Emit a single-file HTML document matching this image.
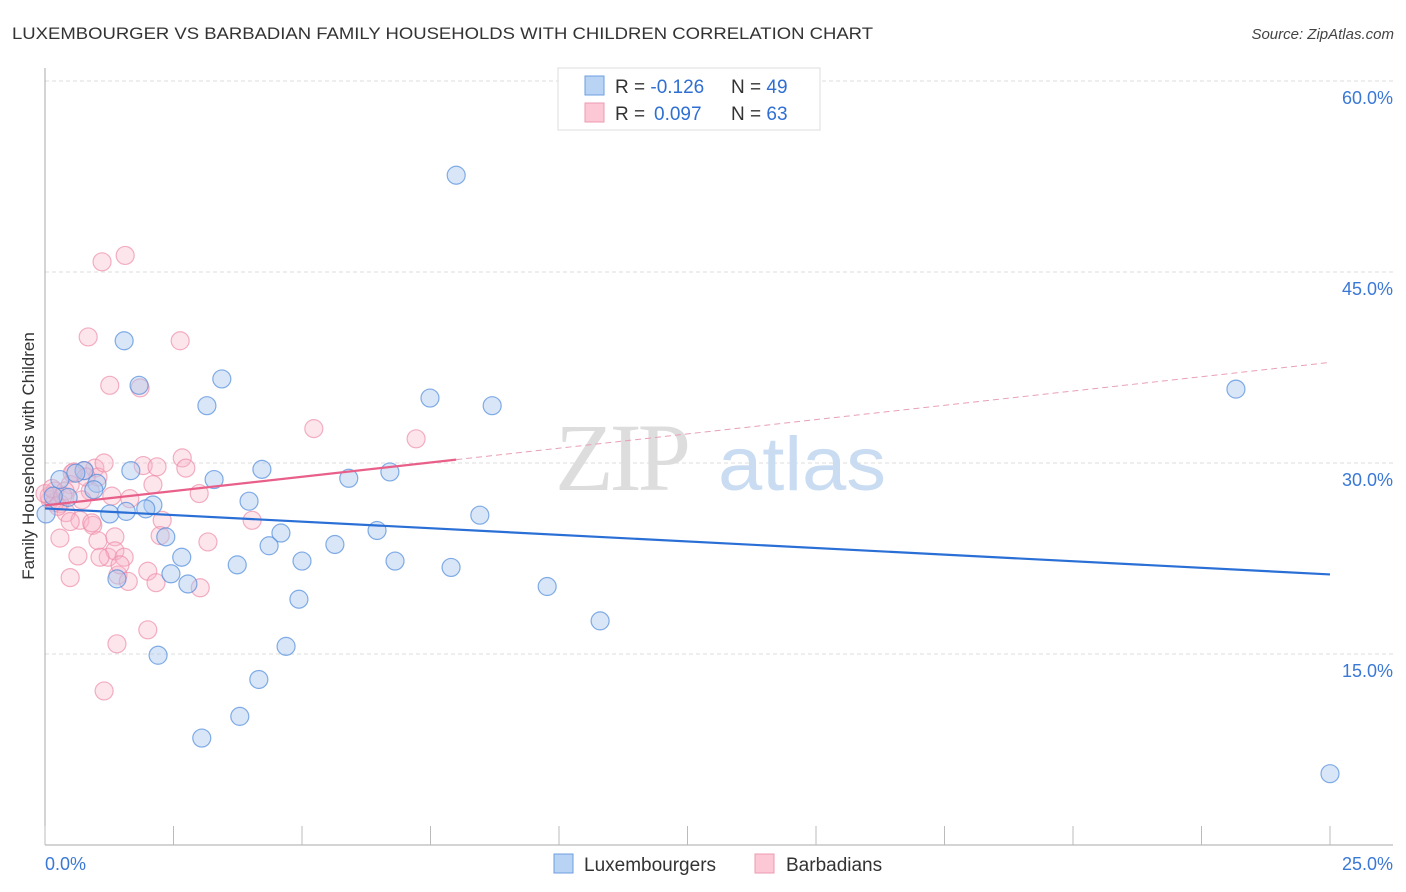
<!DOCTYPE html>
<html><head><meta charset="utf-8"><style>
body{margin:0;background:#fff;font-family:"Liberation Sans",sans-serif}
svg{display:block}
</style></head><body>
<svg id="chart" width="1406" height="892" xmlns="http://www.w3.org/2000/svg" font-family="Liberation Sans, sans-serif">
<text x="12" y="39" font-size="17" fill="#333" textLength="861" lengthAdjust="spacingAndGlyphs">LUXEMBOURGER VS BARBADIAN FAMILY HOUSEHOLDS WITH CHILDREN CORRELATION CHART</text>
<text x="1394" y="39" font-size="15" font-style="italic" fill="#444" text-anchor="end">Source: ZipAtlas.com</text>
<g id="grid"></g>
<g id="axes"></g>
<text x="555" y="490" font-size="96" font-family="Liberation Serif, serif" fill="#ddd" letter-spacing="-4">ZIP</text>
<text x="718" y="490" font-size="76" fill="#c9dcf2" textLength="168" lengthAdjust="spacingAndGlyphs">atlas</text>
<g id="pts"></g>
<g id="lines"></g>
<text transform="translate(34,456) rotate(-90)" font-size="17" fill="#333" text-anchor="middle">Family Households with Children</text>
<g>
<rect x="558" y="68" width="262" height="62" fill="#fff" stroke="#ddd"/>
<rect x="585" y="76" width="19" height="19" fill="#b9d3f5" stroke="#6d9fe0"/>
<rect x="585" y="103" width="19" height="19" fill="#fcc8d6" stroke="#ee9ab2"/>
<text x="615" y="93" font-size="19" fill="#333">R = <tspan fill="#2f6fd3">-0.126</tspan><tspan x="731">N = </tspan><tspan fill="#2f6fd3">49</tspan></text>
<text x="615" y="120" font-size="19" fill="#333">R = <tspan x="654" fill="#2f6fd3">0.097</tspan><tspan x="731">N = </tspan><tspan fill="#2f6fd3">63</tspan></text>
</g>
<g>
<rect x="554" y="854" width="19" height="19" fill="#b9d3f5" stroke="#6d9fe0"/>
<text x="584" y="871" font-size="19" fill="#333">Luxembourgers</text>
<rect x="755" y="854" width="19" height="19" fill="#fcc8d6" stroke="#ee9ab2"/>
<text x="786" y="871" font-size="19" fill="#333">Barbadians</text>
</g>
</svg>
<script>
const yTicks=[15,30,45,60];
const yTickLabels=["15.0%","30.0%","45.0%","60.0%"];
const xTickCount=[0,2.5,5,7.5,10,12.5,15,17.5,20,22.5,25];
const luxX=[8.0,1.54,1.83,3.44,3.15,7.49,8.70,23.17,4.22,3.29,1.67,5.91,6.71,3.97,2.10,1.96,1.26,1.58,8.46,2.35,4.59,6.46,4.36,5.64,2.66,3.74,5.00,6.81,7.90,2.45,2.78,1.40,9.77,4.94,10.80,2.20,4.69,4.16,3.79,3.05,25.0,0.29,0.45,1.01,0.76,0.16,0.02,0.60,0.95];
const luxY=[52.6,39.6,36.1,36.6,34.5,35.1,34.5,35.8,29.5,28.7,29.4,28.8,29.3,27.0,26.7,26.4,26.0,26.2,25.9,24.2,24.5,24.7,23.5,23.6,22.6,22.0,22.3,22.3,21.8,21.3,20.5,20.9,20.3,19.3,17.6,14.9,15.6,13.0,10.1,8.4,5.6,28.7,27.3,28.4,29.4,27.4,26.0,29.2,27.9];
const barX=[1.56,1.11,0.84,2.63,1.26,1.85,5.23,7.22,2.67,1.91,2.18,2.74,0.97,0.76,0.56,1.03,0.49,1.30,1.65,2.10,3.00,0.88,0.19,0.10,0.29,0.41,0.68,2.28,4.03,0.93,0.49,2.24,0.29,1.03,3.17,1.36,0.64,1.23,1.36,1.54,0.49,1.42,1.62,2.00,2.16,3.02,2.00,1.40,1.15,0.08,0.19,0.0,0.14,0.25,0.39,0.53,0.80,1.15,0.91,1.46,0.35,0.72,1.07];
const barY=[46.3,45.8,39.9,39.6,36.1,35.9,32.7,31.9,30.4,29.8,29.7,29.6,29.6,29.4,29.3,28.9,28.3,27.4,27.2,28.3,27.6,27.8,27.8,27.1,26.8,26.1,25.5,25.5,25.5,25.1,25.4,24.3,24.1,23.9,23.8,24.2,22.7,22.6,23.1,22.6,21.0,21.2,20.7,21.5,20.6,20.2,16.9,15.8,12.1,27.4,26.9,27.6,28.0,26.6,27.8,29.2,28.9,30.0,25.3,22.0,27.4,27.1,22.6];
const luxTrend=[26.43,21.25];
const barTrend=[26.67,37.9];
const barSolidEnd=8.0;
const NS="http://www.w3.org/2000/svg";
const X0=45,X1=1330,Y0=845,PX=(X1-X0)/25,PY=(845-463)/30;
const sx=v=>X0+v*PX, sy=v=>Y0-v*PY;
function mk(tag,attrs,parent){const e=document.createElementNS(NS,tag);for(const k in attrs)e.setAttribute(k,attrs[k]);parent.appendChild(e);return e;}
const grid=document.getElementById('grid'),axes=document.getElementById('axes'),pts=document.getElementById('pts'),lines=document.getElementById('lines');
yTicks.forEach((t,i)=>{
  const l=mk('line',{x1:X0,x2:1393,y1:sy(t),y2:sy(t),stroke:'#ddd','stroke-dasharray':'4 3'},grid);
  
  
  const tx=mk('text',{x:1393,y:sy(t)+23,'font-size':18,fill:'#3a78d6','text-anchor':'end'},axes);
  tx.textContent=yTickLabels[i];
  
  
});
const ya=mk('line',{x1:X0,x2:X0,y1:68,y2:Y0,stroke:'#aaa'},axes);


const xa=mk('line',{x1:X0,x2:1393,y1:Y0,y2:Y0,stroke:'#aaa'},axes);


xTickCount.forEach(t=>{
  const l=mk('line',{x1:sx(t),x2:sx(t),y1:826,y2:Y0,stroke:'#bbb'},axes);
  
  
});
[["0.0%",X0,'start'],["25.0%",1393,'end']].forEach(([s,x,a])=>{
  const tx=mk('text',{x:x,y:870,'font-size':18,fill:'#3a78d6','text-anchor':a},axes);
  tx.textContent=s;
  
  
});
barX.forEach((v,i)=>{
  const c=mk('circle',{cx:sx(v),cy:sy(barY[i]),r:9,fill:'rgba(250,180,200,0.35)',stroke:'rgba(236,135,165,0.65)','stroke-width':1.2},pts);
  
  
});
luxX.forEach((v,i)=>{
  const c=mk('circle',{cx:sx(v),cy:sy(luxY[i]),r:9,fill:'rgba(170,200,240,0.45)',stroke:'rgba(80,140,220,0.7)','stroke-width':1.2},pts);
  
  
});
const lt=mk('line',{x1:sx(0),y1:sy(luxTrend[0]),x2:sx(25),y2:sy(luxTrend[1]),stroke:'#2a6fd6','stroke-width':2.2},lines);


const bAt=x=>barTrend[0]+(barTrend[1]-barTrend[0])*x/25;
const bs=mk('line',{x1:sx(0),y1:sy(bAt(0)),x2:sx(barSolidEnd),y2:sy(bAt(barSolidEnd)),stroke:'#e8608a','stroke-width':2.2},lines);


const bd=mk('line',{x1:sx(barSolidEnd),y1:sy(bAt(barSolidEnd)),x2:sx(25),y2:sy(bAt(25)),stroke:'#e8a0b5','stroke-width':1,'stroke-dasharray':'6 4'},lines);


</script>
</body></html>
